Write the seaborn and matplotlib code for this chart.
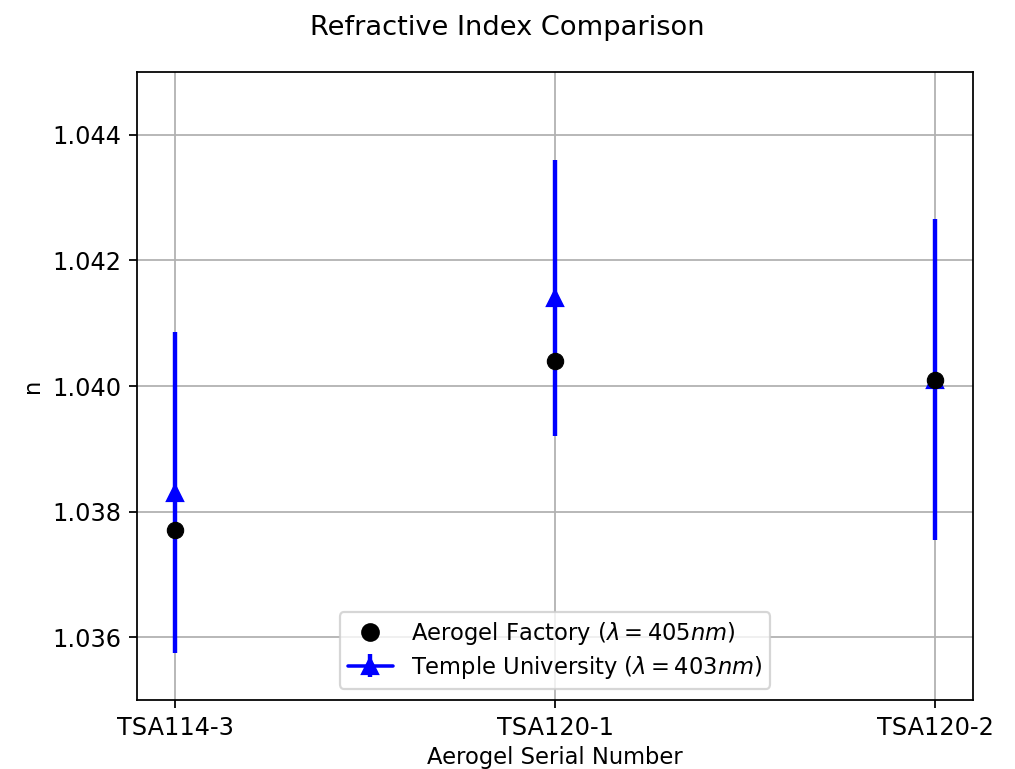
import numpy as np
import pandas as pd
import matplotlib
matplotlib.use("Agg")
import matplotlib.pyplot as plt
from matplotlib.lines import Line2D
from matplotlib.legend_handler import HandlerTuple
import seaborn as sns

categories = ["TSA114-3", "TSA120-1", "TSA120-2"]
factory_n = [1.0377, 1.0404, 1.0401]
temple_n = [1.0383, 1.0414, 1.0401]
temple_err = [0.00255, 0.0022, 0.00255]
yticks = [1.036, 1.038, 1.040, 1.042, 1.044]

sns.set_style("ticks", {"axes.grid": True, "grid.color": "#b0b0b0",
                        "axes.edgecolor": "black", "xtick.color": "black",
                        "ytick.color": "black", "axes.labelcolor": "black",
                        "text.color": "black"})
plt.rcParams["font.family"] = ["DejaVu Sans"]
plt.rcParams["mathtext.fontset"] = "dejavusans"

fig = plt.figure(figsize=(6.4, 4.85), dpi=158.6)
ax = fig.add_axes([0.135, 0.0897, 0.8236, 0.8167])

df = pd.DataFrame({"sample": categories, "n": factory_n})
sns.scatterplot(data=df, x="sample", y="n", ax=ax, color="black", s=55,
                edgecolor="black", linewidth=0.5, zorder=3, legend=False)
eb = ax.errorbar(categories, temple_n, yerr=temple_err, fmt="^", color="blue",
                 ecolor="blue", elinewidth=2, markersize=7, linestyle="none",
                 zorder=2)

ax.set_xlim(-0.1, 2.1)
ax.set_ylim(1.035, 1.045)
ax.set_yticks(yticks)
ax.set_yticklabels([f"{v:.3f}" for v in yticks])
ax.grid(True, color="#b0b0b0", linewidth=0.8)
ax.set_xlabel("Aerogel Serial Number", fontsize=10.3, labelpad=3)
ax.set_ylabel("n", fontsize=10.3)
ax.tick_params(labelsize=10.9, direction="out", length=3.5, width=0.8)
for s in ax.spines.values():
    s.set_linewidth(0.8)
    s.set_color("black")

factory_handle = Line2D([], [], color="black", marker="o", linestyle="none",
                        markersize=7.5)
temple_line = Line2D([], [], color="blue", linewidth=1.6)
leg = ax.legend([factory_handle, (temple_line, eb)],
                [r"Aerogel Factory ($\lambda = 405nm$)",
                 r"Temple University ($\lambda = 403nm$)"],
                handler_map={tuple: HandlerTuple(ndivide=1)},
                loc="lower center", fontsize=10.3, frameon=True,
                labelspacing=0.3, borderpad=0.35,
                framealpha=0.8, edgecolor="#cccccc", fancybox=True)

fig.suptitle("Refractive Index Comparison", fontsize=12.4, y=0.98)
fig.savefig("out.png", dpi=158.6)
